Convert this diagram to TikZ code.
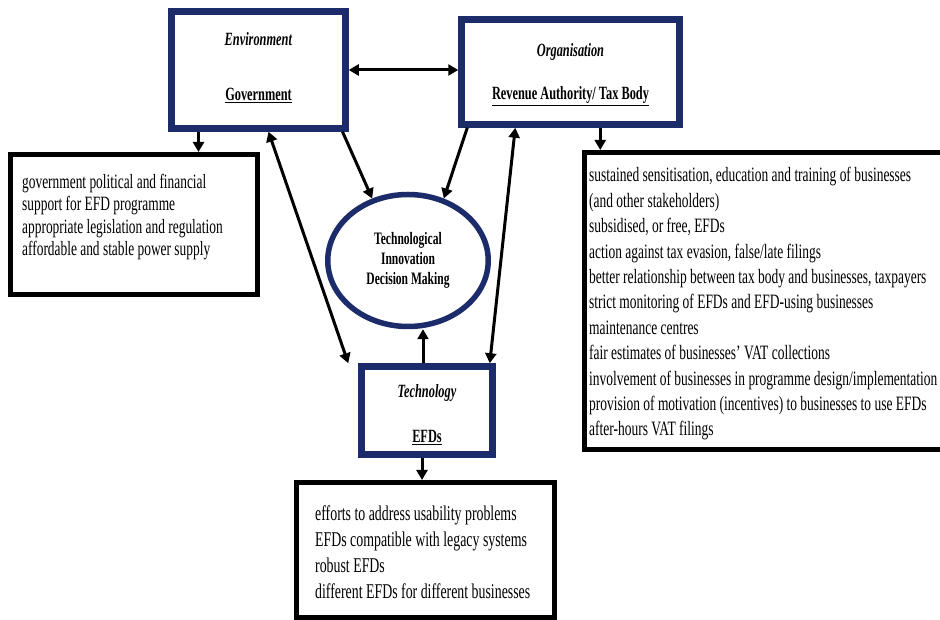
\documentclass[tikz,border=0pt]{standalone}
\usepackage{fontspec}
\setmainfont[FakeStretch=0.66]{Liberation Serif}
\usetikzlibrary{arrows.meta,calc,shapes.geometric,positioning}
\definecolor{framenavy}{RGB}{28,43,105}

\begin{document}
\begin{tikzpicture}[x=1pt,y=1pt,
  headbox/.style={draw=framenavy, line width=6.5pt, fill=white, inner sep=0pt},
  headtext/.style={align=center, inner sep=0pt,
    font=\fontsize{18.7}{21}\selectfont\bfseries},
  listbox/.style={draw=black, line width=5pt, inner sep=0pt},
  listtext/.style={anchor=west, align=left, inner sep=0pt},
  link/.style={line width=3pt, -{Triangle[length=10pt,width=11pt]}},
  duallink/.style={line width=3pt,
    {Triangle[length=10pt,width=11pt]}-{Triangle[length=10pt,width=11pt]}}]

% ── Page: 940 x 620, one unit = one pixel, y counted upwards ─────────────────
\useasboundingbox[fill=white] (0,0) rectangle (940,620);

% ════════════════════════════════════════════════════════════════════════════
% CONTEXT BOXES (navy frames)
% ════════════════════════════════════════════════════════════════════════════
\node[headbox, minimum width=174pt, minimum height=117pt] (env) at (258.5,550) {};
\node[headtext] (envtitle) at ($(env.center)+(0,2)$) {
  \textit{Environment}\\[34pt]
  \underline{Government}
};

\node[headbox, minimum width=218pt, minimum height=105pt] (org) at (570.5,548) {};
\node[headtext] (orgtitle) at ($(org.center)+(0,-3)$) {
  \textit{Organisation}\\[22pt]
  \underline{Revenue Authority/ Tax Body}
};

\node[headbox, minimum width=131pt, minimum height=88pt] (tech) at (427,209.5) {};
\node[headtext] (techtitle) at ($(tech.center)+(0,-4)$) {
  \textit{Technology}\\[24pt]
  \underline{EFDs}
};

% CENTRE — the decision
\node[ellipse, draw=framenavy, line width=5.5pt, fill=white, inner sep=0pt,
      minimum width=160.5pt, minimum height=132pt, align=center,
      font=\fontsize{17.5}{20}\selectfont\bfseries] (dec) at (408,359.5) {
  Technological\\Innovation\\Decision Making
};

% ════════════════════════════════════════════════════════════════════════════
% FACTOR LISTS (black frames)
% ════════════════════════════════════════════════════════════════════════════
\node[listbox, minimum width=247pt, minimum height=140pt] (govbox) at (134,395.5) {};
\node[listtext, font=\fontsize{20.3}{22.5}\selectfont] (govtext) at (22,403) {
  government political and financial\\
  support for EFD programme\\
  appropriate legislation and regulation\\
  affordable and stable power supply
};

% right list runs off the page edge
\node[listbox, minimum width=380pt, minimum height=297pt] (orgbox) at (774.5,319) {};
\node[listtext, font=\fontsize{20.4}{25.4}\selectfont] (orgtext) at (589,316) {
  sustained sensitisation, education and training of businesses\\
  (and other stakeholders)\\
  subsidised, or free, EFDs\\
  action against tax evasion, false/late filings\\
  better relationship between tax body and businesses, taxpayers\\
  strict monitoring of EFDs and EFD-using businesses\\
  maintenance centres\\
  fair estimates of businesses’ VAT collections\\
  involvement of businesses in programme design/implementation\\
  provision of motivation (incentives) to businesses to use EFDs\\
  after-hours VAT filings
};

\node[listbox, minimum width=258pt, minimum height=135pt] (techbox) at (425.5,70) {};
\node[listtext, font=\fontsize{21}{26}\selectfont] (techtext) at (315,68) {
  efforts to address usability problems\\
  EFDs compatible with legacy systems\\
  robust EFDs\\
  different EFDs for different businesses
};

% ════════════════════════════════════════════════════════════════════════════
% CONNECTORS
% ════════════════════════════════════════════════════════════════════════════
\draw[duallink] (env.east) -- (env.east -| org.west);
\draw[link] ([xshift=-60pt]env.south) -- ([xshift=-60pt]env.south |- govbox.north);
\draw[duallink] ([xshift=10pt]env.south) -- ([xshift=-10pt]tech.north west);
\draw[link] ([xshift=84pt]env.south) -- (dec.120);
\draw[link] ([xshift=9pt]org.south west) -- (dec.60);
\draw[duallink] ([xshift=57pt]org.south west) -- ([xshift=-6pt]tech.north east);
\draw[link] ([xshift=142pt]org.south west) -- ([xshift=142pt]org.south west |- orgbox.north);
\draw[link] ([xshift=-4pt]tech.north) -- ([xshift=-4pt]tech.north |- dec.south);
\draw[link] ([xshift=-5pt]tech.south) -- ([xshift=-5pt]tech.south |- techbox.north);

\end{tikzpicture}
\end{document}
